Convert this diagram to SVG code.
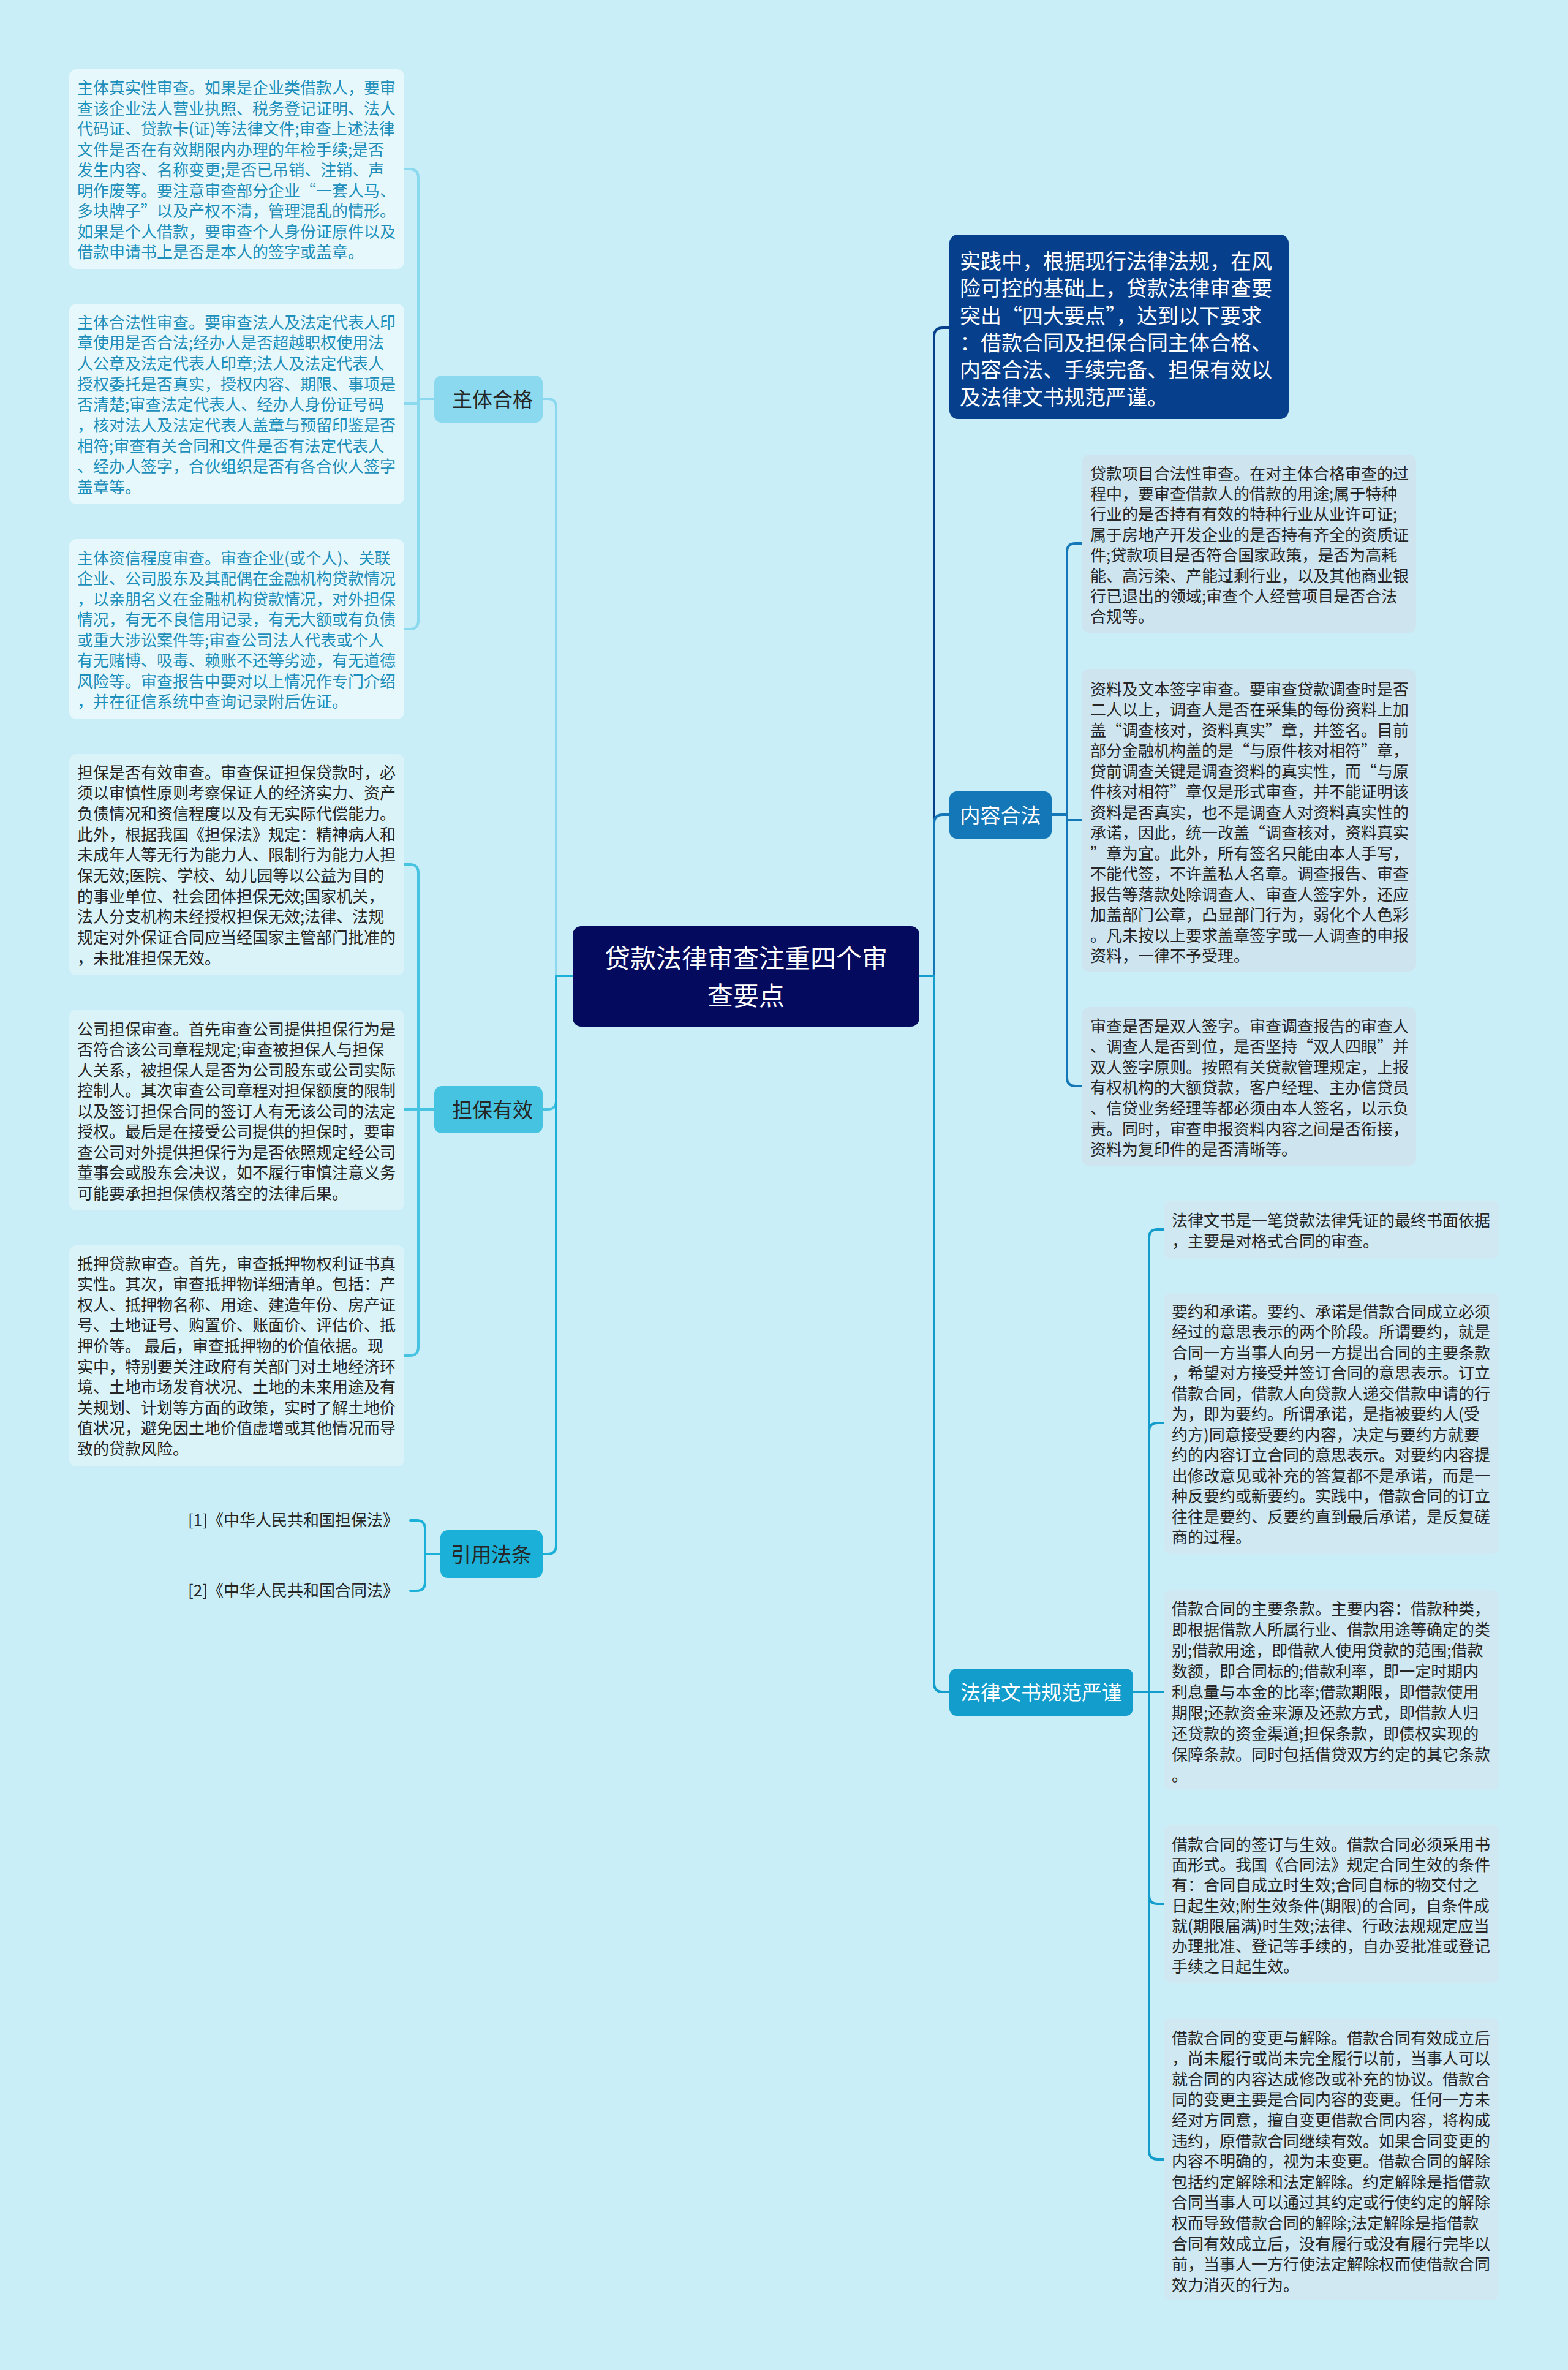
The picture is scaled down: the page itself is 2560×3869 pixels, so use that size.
<svg xmlns="http://www.w3.org/2000/svg" width="2560" height="3869" viewBox="0 0 2560 3869">
<style>
text{font-family:"Noto Sans CJK SC","Noto Sans",sans-serif;}
.c{fill:none;stroke-width:4;stroke-linecap:round;stroke-linejoin:round;}
.t{font-size:26px;}
.tb{fill:#1d8fba;}
.td{fill:#262626;}
.nd{font-size:33px;fill:#262626;text-anchor:middle;}
.nw{font-size:33px;fill:#ffffff;text-anchor:middle;}
.b1{fill:#e6f8fc;}
.b2{fill:#daf3f9;}
.b3{fill:#cee5f0;}
.b4{fill:#cfe8f2;}
</style>
<rect x="0" y="0" width="2560" height="3869" fill="#c9eef7"/>

<g id="connectors">
  <path class="c" stroke="#8ad9ef" d="M935,1593 H908 V665 Q908,651 894,651 H886"/>
  <path class="c" stroke="#45c3e0" d="M935,1593 H908 V1797 Q908,1811 894,1811 H886"/>
  <path class="c" stroke="#1ab0d8" d="M935,1593 H908 V2523 Q908,2537 894,2537 H886"/>

  <path class="c" stroke="#8ad9ef" d="M709,651 H683 V290 Q683,276 669,276 H660"/>
  <path class="c" stroke="#8ad9ef" d="M709,651 H683 V659 H660"/>
  <path class="c" stroke="#8ad9ef" d="M709,651 H683 V1013 Q683,1027 669,1027 H660"/>

  <path class="c" stroke="#45c3e0" d="M709,1811 H683 V1425 Q683,1411 669,1411 H660"/>
  <path class="c" stroke="#45c3e0" d="M709,1811 H660"/>
  <path class="c" stroke="#45c3e0" d="M709,1811 H683 V2199 Q683,2213 669,2213 H660"/>

  <path class="c" stroke="#1ab0d8" d="M719,2537 H694 V2496 Q694,2482 680,2482 H670"/>
  <path class="c" stroke="#1ab0d8" d="M719,2537 H694 V2583 Q694,2597 680,2597 H670"/>

  <path class="c" stroke="#063f8c" d="M1500,1593 H1525 V549 Q1525,535 1539,535 H1550"/>
  <path class="c" stroke="#1478b8" d="M1500,1593 H1525 V1344 Q1525,1330 1539,1330 H1550"/>
  <path class="c" stroke="#129dcc" d="M1500,1593 H1525 V2748 Q1525,2762 1539,2762 H1550"/>

  <path class="c" stroke="#1478b8" d="M1717,1330 H1742 V901 Q1742,887 1756,887 H1766"/>
  <path class="c" stroke="#1478b8" d="M1717,1330 H1742 V1339 H1766"/>
  <path class="c" stroke="#1478b8" d="M1717,1330 H1742 V1759 Q1742,1773 1756,1773 H1766"/>

  <path class="c" stroke="#129dcc" d="M1850,2762 H1876 V2021 Q1876,2007 1890,2007 H1900"/>
  <path class="c" stroke="#129dcc" d="M1850,2762 H1876 V2337 Q1876,2323 1890,2323 H1900"/>
  <path class="c" stroke="#129dcc" d="M1850,2762 H1900"/>
  <path class="c" stroke="#129dcc" d="M1850,2762 H1876 V3094 Q1876,3108 1890,3108 H1900"/>
  <path class="c" stroke="#129dcc" d="M1850,2762 H1876 V3511 Q1876,3525 1890,3525 H1900"/>
</g>

<g id="center">
  <rect x="935" y="1512" width="566" height="164" rx="14" fill="#040b5e"/>
  <text x="1218" y="1580" font-size="42" fill="#ffffff" text-anchor="middle"><tspan x="1218">贷款法律审查注重四个审</tspan><tspan x="1218" dy="61">查要点</tspan></text>
</g>

<g id="n-zhuti">
  <rect x="709" y="613" width="177" height="77" rx="12" fill="#8ad9ef"/>
  <text class="nd" x="804" y="664">主体合格</text>
</g>
<g id="n-danbao">
  <rect x="709" y="1773" width="177" height="77" rx="12" fill="#45c3e0"/>
  <text class="nd" x="804" y="1824">担保有效</text>
</g>
<g id="n-yinyong">
  <rect x="719" y="2498" width="167" height="78" rx="12" fill="#1ab0d8"/>
  <text class="nd" x="802" y="2550">引用法条</text>
</g>

<g id="n-zt1">
  <rect class="b1" x="113" y="113" width="547" height="326" rx="12"/>
  <text class="t tb" x="126" y="153">
    <tspan x="126">主体真实性审查。如果是企业类借款人，要审</tspan>
    <tspan x="126" dy="33.5">查该企业法人营业执照、税务登记证明、法人</tspan>
    <tspan x="126" dy="33.5">代码证、贷款卡(证)等法律文件;审查上述法律</tspan>
    <tspan x="126" dy="33.5">文件是否在有效期限内办理的年检手续;是否</tspan>
    <tspan x="126" dy="33.5">发生内容、名称变更;是否已吊销、注销、声</tspan>
    <tspan x="126" dy="33.5">明作废等。要注意审查部分企业“一套人马、</tspan>
    <tspan x="126" dy="33.5">多块牌子”以及产权不清，管理混乱的情形。</tspan>
    <tspan x="126" dy="33.5">如果是个人借款，要审查个人身份证原件以及</tspan>
    <tspan x="126" dy="33.5">借款申请书上是否是本人的签字或盖章。</tspan>
  </text>
</g>
<g id="n-zt2">
  <rect class="b1" x="113" y="496" width="547" height="327" rx="12"/>
  <text class="t tb" x="126" y="535.5">
    <tspan x="126">主体合法性审查。要审查法人及法定代表人印</tspan>
    <tspan x="126" dy="33.7">章使用是否合法;经办人是否超越职权使用法</tspan>
    <tspan x="126" dy="33.7">人公章及法定代表人印章;法人及法定代表人</tspan>
    <tspan x="126" dy="33.7">授权委托是否真实，授权内容、期限、事项是</tspan>
    <tspan x="126" dy="33.7">否清楚;审查法定代表人、经办人身份证号码</tspan>
    <tspan x="126" dy="33.7">，核对法人及法定代表人盖章与预留印鉴是否</tspan>
    <tspan x="126" dy="33.7">相符;审查有关合同和文件是否有法定代表人</tspan>
    <tspan x="126" dy="33.7">、经办人签字，合伙组织是否有各合伙人签字</tspan>
    <tspan x="126" dy="33.7">盖章等。</tspan>
  </text>
</g>
<g id="n-zt3">
  <rect class="b1" x="113" y="880" width="547" height="294" rx="12"/>
  <text class="t tb" x="126" y="920.5">
    <tspan x="126">主体资信程度审查。审查企业(或个人)、关联</tspan>
    <tspan x="126" dy="33.5">企业、公司股东及其配偶在金融机构贷款情况</tspan>
    <tspan x="126" dy="33.5">，以亲朋名义在金融机构贷款情况，对外担保</tspan>
    <tspan x="126" dy="33.5">情况，有无不良信用记录，有无大额或有负债</tspan>
    <tspan x="126" dy="33.5">或重大涉讼案件等;审查公司法人代表或个人</tspan>
    <tspan x="126" dy="33.5">有无赌博、吸毒、赖账不还等劣迹，有无道德</tspan>
    <tspan x="126" dy="33.5">风险等。审查报告中要对以上情况作专门介绍</tspan>
    <tspan x="126" dy="33.5">，并在征信系统中查询记录附后佐证。</tspan>
  </text>
</g>

<g id="n-db1">
  <rect class="b2" x="113" y="1231" width="547" height="361" rx="12"/>
  <text class="t td" x="126" y="1270.5">
    <tspan x="126">担保是否有效审查。审查保证担保贷款时，必</tspan>
    <tspan x="126" dy="33.7">须以审慎性原则考察保证人的经济实力、资产</tspan>
    <tspan x="126" dy="33.7">负债情况和资信程度以及有无实际代偿能力。</tspan>
    <tspan x="126" dy="33.7">此外，根据我国《担保法》规定：精神病人和</tspan>
    <tspan x="126" dy="33.7">未成年人等无行为能力人、限制行为能力人担</tspan>
    <tspan x="126" dy="33.7">保无效;医院、学校、幼儿园等以公益为目的</tspan>
    <tspan x="126" dy="33.7">的事业单位、社会团体担保无效;国家机关，</tspan>
    <tspan x="126" dy="33.7">法人分支机构未经授权担保无效;法律、法规</tspan>
    <tspan x="126" dy="33.7">规定对外保证合同应当经国家主管部门批准的</tspan>
    <tspan x="126" dy="33.7">，未批准担保无效。</tspan>
  </text>
</g>
<g id="n-db2">
  <rect class="b2" x="113" y="1648" width="547" height="328" rx="12"/>
  <text class="t td" x="126" y="1689.5">
    <tspan x="126">公司担保审查。首先审查公司提供担保行为是</tspan>
    <tspan x="126" dy="33.5">否符合该公司章程规定;审查被担保人与担保</tspan>
    <tspan x="126" dy="33.5">人关系，被担保人是否为公司股东或公司实际</tspan>
    <tspan x="126" dy="33.5">控制人。其次审查公司章程对担保额度的限制</tspan>
    <tspan x="126" dy="33.5">以及签订担保合同的签订人有无该公司的法定</tspan>
    <tspan x="126" dy="33.5">授权。最后是在接受公司提供的担保时，要审</tspan>
    <tspan x="126" dy="33.5">查公司对外提供担保行为是否依照规定经公司</tspan>
    <tspan x="126" dy="33.5">董事会或股东会决议，如不履行审慎注意义务</tspan>
    <tspan x="126" dy="33.5">可能要承担担保债权落空的法律后果。</tspan>
  </text>
</g>
<g id="n-db3">
  <rect class="b2" x="113" y="2033" width="547" height="361" rx="12"/>
  <text class="t td" x="126" y="2072.5">
    <tspan x="126">抵押贷款审查。首先，审查抵押物权利证书真</tspan>
    <tspan x="126" dy="33.6">实性。其次，审查抵押物详细清单。包括：产</tspan>
    <tspan x="126" dy="33.6">权人、抵押物名称、用途、建造年份、房产证</tspan>
    <tspan x="126" dy="33.6">号、土地证号、购置价、账面价、评估价、抵</tspan>
    <tspan x="126" dy="33.6">押价等。 最后，审查抵押物的价值依据。现</tspan>
    <tspan x="126" dy="33.6">实中，特别要关注政府有关部门对土地经济环</tspan>
    <tspan x="126" dy="33.6">境、土地市场发育状况、土地的未来用途及有</tspan>
    <tspan x="126" dy="33.6">关规划、计划等方面的政策，实时了解土地价</tspan>
    <tspan x="126" dy="33.6">值状况，避免因土地价值虚增或其他情况而导</tspan>
    <tspan x="126" dy="33.6">致的贷款风险。</tspan>
  </text>
</g>

<g id="n-cite1">
  <text class="t td" x="651" y="2491" text-anchor="end">[1]《中华人民共和国担保法》</text>
</g>
<g id="n-cite2">
  <text class="t td" x="651" y="2606" text-anchor="end">[2]《中华人民共和国合同法》</text>
</g>

<g id="n-shijian">
  <rect x="1550" y="383" width="554" height="301" rx="14" fill="#063f8c"/>
  <text x="1567" y="439" font-size="34" fill="#ffffff">
    <tspan x="1567">实践中，根据现行法律法规，在风</tspan>
    <tspan x="1567" dy="44.3">险可控的基础上，贷款法律审查要</tspan>
    <tspan x="1567" dy="44.3">突出“四大要点”，达到以下要求</tspan>
    <tspan x="1567" dy="44.3">：借款合同及担保合同主体合格、</tspan>
    <tspan x="1567" dy="44.3">内容合法、手续完备、担保有效以</tspan>
    <tspan x="1567" dy="44.3">及法律文书规范严谨。</tspan>
  </text>
</g>

<g id="n-neirong">
  <rect x="1550" y="1292" width="167" height="77" rx="12" fill="#1478b8"/>
  <text class="nw" x="1633.5" y="1343">内容合法</text>
</g>

<g id="n-nr1">
  <rect class="b3" x="1766" y="742" width="546" height="291" rx="12"/>
  <text class="t td" x="1780" y="782.5">
    <tspan x="1780">贷款项目合法性审查。在对主体合格审查的过</tspan>
    <tspan x="1780" dy="33.4">程中，要审查借款人的借款的用途;属于特种</tspan>
    <tspan x="1780" dy="33.4">行业的是否持有有效的特种行业从业许可证;</tspan>
    <tspan x="1780" dy="33.4">属于房地产开发企业的是否持有齐全的资质证</tspan>
    <tspan x="1780" dy="33.4">件;贷款项目是否符合国家政策，是否为高耗</tspan>
    <tspan x="1780" dy="33.4">能、高污染、产能过剩行业，以及其他商业银</tspan>
    <tspan x="1780" dy="33.4">行已退出的领域;审查个人经营项目是否合法</tspan>
    <tspan x="1780" dy="33.4">合规等。</tspan>
  </text>
</g>
<g id="n-nr2">
  <rect class="b3" x="1766" y="1092" width="546" height="494" rx="12"/>
  <text class="t td" x="1780" y="1134.5">
    <tspan x="1780">资料及文本签字审查。要审查贷款调查时是否</tspan>
    <tspan x="1780" dy="33.5">二人以上，调查人是否在采集的每份资料上加</tspan>
    <tspan x="1780" dy="33.5">盖“调查核对，资料真实”章，并签名。目前</tspan>
    <tspan x="1780" dy="33.5">部分金融机构盖的是“与原件核对相符”章，</tspan>
    <tspan x="1780" dy="33.5">贷前调查关键是调查资料的真实性，而“与原</tspan>
    <tspan x="1780" dy="33.5">件核对相符”章仅是形式审查，并不能证明该</tspan>
    <tspan x="1780" dy="33.5">资料是否真实，也不是调查人对资料真实性的</tspan>
    <tspan x="1780" dy="33.5">承诺，因此，统一改盖“调查核对，资料真实</tspan>
    <tspan x="1780" dy="33.5">”章为宜。此外，所有签名只能由本人手写，</tspan>
    <tspan x="1780" dy="33.5">不能代签，不许盖私人名章。调查报告、审查</tspan>
    <tspan x="1780" dy="33.5">报告等落款处除调查人、审查人签字外，还应</tspan>
    <tspan x="1780" dy="33.5">加盖部门公章，凸显部门行为，弱化个人色彩</tspan>
    <tspan x="1780" dy="33.5">。凡未按以上要求盖章签字或一人调查的申报</tspan>
    <tspan x="1780" dy="33.5">资料，一律不予受理。</tspan>
  </text>
</g>
<g id="n-nr3">
  <rect class="b3" x="1766" y="1644" width="546" height="259" rx="12"/>
  <text class="t td" x="1780" y="1684.5">
    <tspan x="1780">审查是否是双人签字。审查调查报告的审查人</tspan>
    <tspan x="1780" dy="33.6">、调查人是否到位，是否坚持“双人四眼”并</tspan>
    <tspan x="1780" dy="33.6">双人签字原则。按照有关贷款管理规定，上报</tspan>
    <tspan x="1780" dy="33.6">有权机构的大额贷款，客户经理、主办信贷员</tspan>
    <tspan x="1780" dy="33.6">、信贷业务经理等都必须由本人签名，以示负</tspan>
    <tspan x="1780" dy="33.6">责。同时，审查申报资料内容之间是否衔接，</tspan>
    <tspan x="1780" dy="33.6">资料为复印件的是否清晰等。</tspan>
  </text>
</g>

<g id="n-falv">
  <rect x="1550" y="2724" width="300" height="77" rx="12" fill="#129dcc"/>
  <text class="nw" x="1700" y="2775">法律文书规范严谨</text>
</g>

<g id="n-fl1">
  <rect class="b4" x="1900" y="1960" width="548" height="95" rx="12"/>
  <text class="t td" x="1913" y="2002">
    <tspan x="1913">法律文书是一笔贷款法律凭证的最终书面依据</tspan>
    <tspan x="1913" dy="34">，主要是对格式合同的审查。</tspan>
  </text>
</g>
<g id="n-fl2">
  <rect class="b4" x="1900" y="2110" width="548" height="427" rx="12"/>
  <text class="t td" x="1913" y="2150.5">
    <tspan x="1913">要约和承诺。要约、承诺是借款合同成立必须</tspan>
    <tspan x="1913" dy="33.5">经过的意思表示的两个阶段。所谓要约，就是</tspan>
    <tspan x="1913" dy="33.5">合同一方当事人向另一方提出合同的主要条款</tspan>
    <tspan x="1913" dy="33.5">，希望对方接受并签订合同的意思表示。订立</tspan>
    <tspan x="1913" dy="33.5">借款合同，借款人向贷款人递交借款申请的行</tspan>
    <tspan x="1913" dy="33.5">为，即为要约。所谓承诺，是指被要约人(受</tspan>
    <tspan x="1913" dy="33.5">约方)同意接受要约内容，决定与要约方就要</tspan>
    <tspan x="1913" dy="33.5">约的内容订立合同的意思表示。对要约内容提</tspan>
    <tspan x="1913" dy="33.5">出修改意见或补充的答复都不是承诺，而是一</tspan>
    <tspan x="1913" dy="33.5">种反要约或新要约。实践中，借款合同的订立</tspan>
    <tspan x="1913" dy="33.5">往往是要约、反要约直到最后承诺，是反复磋</tspan>
    <tspan x="1913" dy="33.5">商的过程。</tspan>
  </text>
</g>
<g id="n-fl3">
  <rect class="b4" x="1900" y="2596" width="548" height="326" rx="12"/>
  <text class="t td" x="1913" y="2635.5">
    <tspan x="1913">借款合同的主要条款。主要内容：借款种类，</tspan>
    <tspan x="1913" dy="34">即根据借款人所属行业、借款用途等确定的类</tspan>
    <tspan x="1913" dy="34">别;借款用途，即借款人使用贷款的范围;借款</tspan>
    <tspan x="1913" dy="34">数额，即合同标的;借款利率，即一定时期内</tspan>
    <tspan x="1913" dy="34">利息量与本金的比率;借款期限，即借款使用</tspan>
    <tspan x="1913" dy="34">期限;还款资金来源及还款方式，即借款人归</tspan>
    <tspan x="1913" dy="34">还贷款的资金渠道;担保条款，即债权实现的</tspan>
    <tspan x="1913" dy="34">保障条款。同时包括借贷双方约定的其它条款</tspan>
    <tspan x="1913" dy="34">。</tspan>
  </text>
</g>
<g id="n-fl4">
  <rect class="b4" x="1900" y="2979" width="548" height="258" rx="12"/>
  <text class="t td" x="1913" y="3021">
    <tspan x="1913">借款合同的签订与生效。借款合同必须采用书</tspan>
    <tspan x="1913" dy="33.2">面形式。我国《合同法》规定合同生效的条件</tspan>
    <tspan x="1913" dy="33.2">有：合同自成立时生效;合同自标的物交付之</tspan>
    <tspan x="1913" dy="33.2">日起生效;附生效条件(期限)的合同，自条件成</tspan>
    <tspan x="1913" dy="33.2">就(期限届满)时生效;法律、行政法规规定应当</tspan>
    <tspan x="1913" dy="33.2">办理批准、登记等手续的，自办妥批准或登记</tspan>
    <tspan x="1913" dy="33.2">手续之日起生效。</tspan>
  </text>
</g>
<g id="n-fl5">
  <rect class="b4" x="1900" y="3295" width="548" height="460" rx="12"/>
  <text class="t td" x="1913" y="3336.5">
    <tspan x="1913">借款合同的变更与解除。借款合同有效成立后</tspan>
    <tspan x="1913" dy="33.6">，尚未履行或尚未完全履行以前，当事人可以</tspan>
    <tspan x="1913" dy="33.6">就合同的内容达成修改或补充的协议。借款合</tspan>
    <tspan x="1913" dy="33.6">同的变更主要是合同内容的变更。任何一方未</tspan>
    <tspan x="1913" dy="33.6">经对方同意，擅自变更借款合同内容，将构成</tspan>
    <tspan x="1913" dy="33.6">违约，原借款合同继续有效。如果合同变更的</tspan>
    <tspan x="1913" dy="33.6">内容不明确的，视为未变更。借款合同的解除</tspan>
    <tspan x="1913" dy="33.6">包括约定解除和法定解除。约定解除是指借款</tspan>
    <tspan x="1913" dy="33.6">合同当事人可以通过其约定或行使约定的解除</tspan>
    <tspan x="1913" dy="33.6">权而导致借款合同的解除;法定解除是指借款</tspan>
    <tspan x="1913" dy="33.6">合同有效成立后，没有履行或没有履行完毕以</tspan>
    <tspan x="1913" dy="33.6">前，当事人一方行使法定解除权而使借款合同</tspan>
    <tspan x="1913" dy="33.6">效力消灭的行为。</tspan>
  </text>
</g>
</svg>
